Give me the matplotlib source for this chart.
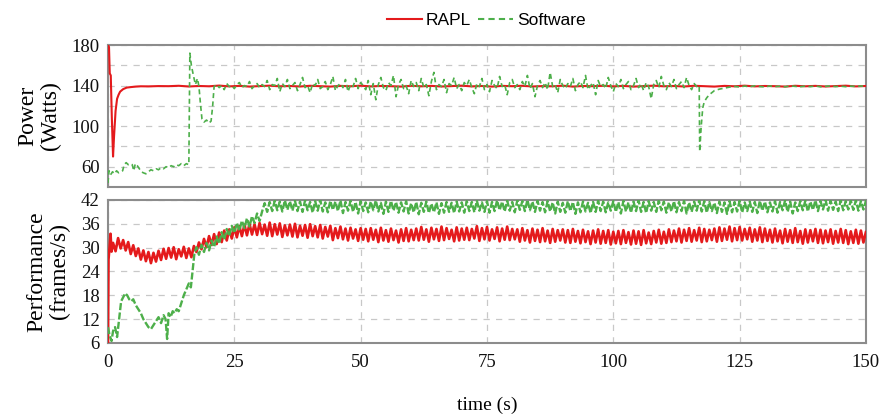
import matplotlib.pyplot as plt
from matplotlib.lines import Line2D
import numpy as np

plt.rcParams['font.family'] = 'Liberation Serif'

RED = '#e41a1c'
GREEN = '#4daf4a'

# ---- power (top) ----
# RAPL: start-up transient, then a flat line sampled every 2 s
rapl_pow_t0 = [0, 0.2, 0.35, 0.55, 0.75, 1.0, 1.2, 1.5, 1.8, 2.1, 2.4, 3.0, 3.7,
               4.5, 5.5, 6.5, 8.0, 10.0]
rapl_pow_v0 = [180, 178, 152, 150, 110, 70, 90, 115, 127, 131, 134, 136.5, 138,
               138.5, 139, 139.3, 139.2, 139.5]
rapl_pow_rest = [139.4, 139.8, 139.1, 139.6, 139.3, 140.0, 139.2, 139.7, 139.0, 139.5,
                 139.9, 139.3, 139.6, 139.1, 139.8, 139.4, 139.0, 139.7, 139.3, 139.9,
                 139.2, 139.6, 139.4, 139.0, 139.8, 139.3, 139.7, 139.1, 139.5, 139.9,
                 139.2, 139.6, 139.0, 139.7, 139.4, 139.8, 139.1, 139.5, 139.3, 139.9,
                 139.0, 139.6, 139.4, 139.8, 139.2, 139.7, 139.0, 139.5, 139.9, 139.3,
                 139.6, 139.1, 139.8, 139.4, 139.0, 139.7, 139.3, 139.9, 139.2, 139.6,
                 139.4, 139.0, 139.8, 139.3, 139.7, 139.1, 139.5, 139.9, 139.2, 139.6]

# Software: slow start, overshoot at ~16 s, then noisy around the cap
sw_pow_t0 = [0, 0.2, 0.5, 0.9, 1.3, 1.7, 2.1, 2.5, 2.9, 3.2,
             3.6, 4.0, 4.4, 4.8, 5.1, 5.4, 5.8, 6.2, 6.6, 7.0,
             7.5, 8.0, 8.5, 9.0, 9.5, 10.0, 10.5, 11.0, 11.5, 12.0,
             12.5, 13.0, 13.5, 14.0, 14.5, 15.0, 15.5, 16.0, 16.2, 16.5,
             16.9, 17.3, 17.7, 18.0, 18.3, 18.6, 19.0, 19.5, 20.0, 20.4,
             20.7, 20.9]
sw_pow_v0 = [44, 56, 52, 55, 53, 56, 54, 55, 56, 62,
             64, 62, 63, 62, 56, 63, 61, 58, 55, 54,
             53, 55, 57, 56, 58, 57, 59, 58, 60, 59,
             61, 60, 62, 61, 63, 61, 63, 62, 172, 160,
             150, 141, 147, 139, 122, 107, 104, 106, 103, 105,
             119, 132]
# every 0.5 s from 21 s to 116.5 s
sw_pow_noise = [139, 141, 138, 140, 136, 142, 139, 140, 137, 141, 143, 138, 140, 139, 144, 137, 140, 142, 138, 141,
                139, 145, 136, 141, 140, 147, 134, 142, 139, 146, 137, 140, 143, 135, 141, 148, 138, 140, 133, 142,
                140, 146, 137, 139, 144, 136, 141, 149, 135, 140, 142, 138, 146, 134, 141, 139, 147, 137, 143, 140,
                136, 145, 131, 142, 126, 141, 148, 138, 135, 143, 140, 150, 129, 141, 146, 137, 140, 132, 145, 139,
                143, 135, 147, 138, 141, 130, 144, 153, 136, 141, 139, 146, 133, 142, 140, 148, 137, 141, 135, 143,
                140, 146, 138, 132, 142, 139, 147, 136, 141, 134, 145, 140, 137, 149, 139, 141, 131, 143, 146, 138,
                141, 136, 144, 139, 150, 137, 142, 129, 140, 145, 138, 143, 136, 153, 139, 141, 133, 146, 140, 137,
                142, 139, 147, 135, 141, 144, 138, 150, 136, 140, 143, 131, 145, 139, 141, 137, 148, 140, 134, 142,
                139, 146, 137, 141, 144, 136, 140, 147, 138, 142, 135, 143, 139, 127, 141, 145, 138, 149, 140, 136,
                143, 139, 146, 137, 141, 144, 138, 148, 140, 136, 142, 139]
sw_pow_t1 = [117.0, 117.1, 117.4, 117.7, 118.0, 118.5, 119.0, 119.5, 120.0, 121.0, 122.0, 123.0]
sw_pow_v1 = [140, 75, 100, 118, 124, 128, 131, 133, 135, 136.5, 137.5, 138.5]
# every 1 s from 124 s
sw_pow_tail = [139.2, 138.6, 139.5, 138.9, 139.8, 139.1, 138.7, 139.6, 139.0, 139.4,
               138.8, 139.7, 139.2, 138.9, 139.5, 139.0, 139.6, 138.8, 139.3, 139.7,
               139.0, 139.4, 138.9, 139.5, 139.1, 139.6, 139.2]

# ---- performance (bottom) ----
rapl_fps_t0 = [0, 0.1, 0.3, 0.5, 0.7]
rapl_fps_v0 = [6, 27, 30, 33.5, 29]
# every 0.5 s from 1 s
rapl_fps_rest = [31.2, 29.1, 32.4, 29.8, 31.9, 29.3, 31.4, 28.4, 30.6, 27.9, 29.8, 27.0, 29.3, 26.6, 28.9, 26.1, 28.7, 26.5, 29.2, 26.9,
                 29.7, 27.2, 29.9, 27.5, 30.1, 27.1, 29.6, 27.8, 30.2, 27.4, 29.8, 27.6, 30.4, 28.9, 31.3, 29.6, 32.2, 30.1, 32.9, 30.7,
                 33.4, 30.9, 33.8, 31.4, 34.3, 31.8, 34.6, 32.3, 35.1, 32.6, 35.4, 32.9, 35.8, 33.1, 36.0, 33.3, 35.9, 33.2, 36.2, 33.4,
                 35.8, 33.0, 36.3, 32.9, 35.9, 33.3, 36.1, 32.7, 35.6, 33.1, 35.8, 32.8, 36.0, 32.6, 35.5, 33.0, 35.7, 32.5, 35.9, 32.9,
                 35.4, 32.6, 35.7, 32.3, 35.2, 32.8, 35.5, 31.9, 34.9, 32.4, 35.3, 32.1, 34.8, 31.8, 35.0, 32.3, 34.6, 31.7, 34.9, 32.0,
                 34.7, 31.6, 34.9, 32.0, 34.5, 31.4, 35.0, 31.8, 34.4, 31.5, 34.8, 31.9, 34.3, 31.3, 34.6, 31.7, 34.9, 31.6, 34.5, 31.9,
                 34.8, 31.8, 35.2, 32.0, 34.6, 31.5, 35.0, 32.1, 34.7, 31.7, 35.3, 31.9, 34.9, 32.2, 34.5, 31.6, 35.1, 31.8, 34.8, 32.0,
                 35.0, 31.9, 34.7, 32.3, 35.4, 31.7, 34.9, 32.1, 35.2, 31.8, 34.6, 32.2, 35.1, 31.6, 34.8, 32.0, 35.3, 31.9, 34.7, 32.1,
                 34.6, 31.5, 34.9, 31.8, 34.4, 31.3, 34.8, 31.7, 34.5, 31.4, 34.9, 31.6, 34.3, 31.2, 34.7, 31.5, 34.4, 31.8, 34.6, 31.3,
                 34.4, 31.2, 34.7, 31.5, 34.2, 31.1, 34.5, 31.4, 34.1, 30.9, 34.3, 31.3, 34.6, 31.0, 34.2, 31.2, 34.4, 30.8, 34.0, 31.1,
                 34.2, 30.9, 34.4, 31.2, 33.9, 30.8, 34.3, 31.0, 34.1, 30.7, 34.4, 31.1, 33.8, 30.9, 34.2, 31.3, 34.5, 31.0, 34.0, 31.2,
                 34.6, 31.4, 34.3, 31.6, 34.8, 31.3, 34.5, 31.7, 34.9, 31.5, 34.4, 31.8, 35.0, 31.4, 34.7, 31.6, 34.5, 31.9, 34.8, 31.5,
                 35.1, 31.7, 34.8, 32.0, 35.3, 31.6, 34.9, 31.9, 35.2, 31.8, 34.7, 32.1, 35.0, 31.5, 34.6, 31.8, 35.1, 31.4, 34.8, 31.7,
                 34.5, 31.3, 34.8, 31.6, 34.3, 31.1, 34.7, 31.5, 34.4, 31.2, 34.9, 31.4, 34.2, 31.0, 34.6, 31.3, 34.4, 31.6, 34.7, 31.2,
                 34.5, 31.1, 34.3, 31.4, 34.6, 31.0, 34.2, 31.3, 34.7, 31.2, 34.4, 30.9, 34.1, 31.2, 34.5, 31.0, 34.3, 31.3, 34.0, 31.1]

sw_fps_t0 = [0, 0.3, 0.7, 1.0, 1.4, 1.8, 2.2, 2.6, 3.0, 3.4,
             3.8, 4.2, 4.6, 5.0, 5.5, 6.0, 6.5, 7.0, 7.5, 8.0,
             8.5, 9.0, 9.5, 10.0, 10.5, 11.0, 11.4, 11.7, 12.0, 12.4,
             12.8, 13.2, 13.6, 14.0, 14.5, 15.0, 15.5, 16.0, 16.4, 16.8,
             17.1]
sw_fps_v0 = [10, 8, 6.5, 9, 10, 7.5, 12, 16.5, 17.5, 18.5,
             18, 17, 16.5, 17, 15.5, 14.5, 13.5, 12, 11, 10,
             9.5, 10.5, 11.5, 12.5, 11, 13, 12, 7, 13.5, 12.5,
             14, 13.5, 14.5, 14, 16, 18, 19.5, 21, 20, 25,
             28.5]
# every 0.5 s from 17.5 s
sw_fps_rest = [30.1, 28.2, 30.7, 28.9, 31.2, 29.3, 31.8, 30.1, 32.8, 31.0, 33.9, 32.0, 34.7, 32.9, 35.5, 33.7, 36.2, 34.3, 36.8, 34.9,
               37.4, 35.3, 37.9, 36.2, 38.6, 36.7, 39.1, 41.2, 39.0, 41.5, 39.2, 41.8, 39.4, 41.6, 39.1, 41.9, 39.5, 41.7, 39.3, 41.8,
               39.2, 41.6, 39.0, 41.9, 39.4, 41.5, 38.8, 41.7, 39.3, 42.0, 39.1, 41.4, 38.9, 41.8, 39.5, 41.6, 39.2, 41.9, 38.7, 41.5,
               39.3, 41.8, 39.0, 41.5, 38.6, 41.7, 39.2, 41.4, 38.9, 41.6, 39.4, 41.9, 39.1, 41.3, 38.5, 41.6, 39.0, 41.8, 39.3, 41.5,
               38.8, 41.4, 39.1, 41.7, 38.6, 41.2, 38.9, 41.5, 38.4, 41.3, 39.0, 41.6, 38.7, 41.1, 38.9, 41.4, 38.5, 41.2, 38.8, 41.5,
               39.0, 41.3, 38.7, 41.6, 39.1, 41.4, 38.8, 41.7, 39.2, 41.5, 38.9, 41.8, 39.3, 41.4, 39.0, 41.7, 38.8, 41.5, 39.2, 41.9,
               39.4, 41.6, 39.1, 41.8, 39.3, 41.5, 38.9, 41.9, 39.5, 41.7, 39.2, 42.0, 39.4, 41.6, 39.0, 41.8, 39.3, 41.5, 38.9, 41.7,
               39.1, 41.4, 38.6, 41.6, 39.0, 41.3, 38.8, 41.7, 39.2, 41.5, 38.5, 41.4, 38.9, 41.6, 39.1, 41.3, 38.7, 41.5, 39.0, 41.8,
               39.2, 41.6, 38.9, 41.4, 39.3, 41.7, 39.0, 41.5, 38.6, 41.8, 39.1, 41.4, 38.8, 41.6, 39.2, 41.9, 39.0, 41.5, 38.7, 41.7,
               39.3, 41.5, 39.0, 41.8, 39.4, 41.6, 38.8, 41.4, 39.1, 41.7, 38.9, 41.5, 39.2, 41.8, 38.6, 41.4, 39.0, 41.6, 39.3, 41.9,
               39.1, 41.7, 38.8, 41.5, 39.2, 41.3, 38.7, 41.6, 39.0, 41.4, 38.5, 41.7, 38.9, 41.5, 39.1, 41.8, 38.8, 41.4, 39.2, 41.6,
               39.0, 41.5, 38.7, 41.8, 39.3, 41.6, 38.9, 41.4, 39.1, 41.7, 38.8, 41.5, 39.4, 41.9, 39.0, 41.6, 38.6, 41.4, 39.2, 41.7,
               39.4, 41.8, 39.1, 41.6, 39.5, 41.9, 39.2, 41.7, 39.6, 42.0, 39.3, 41.8, 39.5, 41.6, 39.2, 41.9, 39.4, 41.7, 39.6, 41.8,
               39.5, 41.9, 39.3, 41.7, 39.6, 41.8, 39.4]


def join(t0, v0, start, step, rest):
    t = np.concatenate([t0, start + step * np.arange(len(rest))])
    v = np.concatenate([v0, rest])
    return t, v


rapl_pow_t, rapl_pow = join(rapl_pow_t0, rapl_pow_v0, 12.0, 2.0, rapl_pow_rest)
sw_pow_t = np.concatenate([sw_pow_t0, 21.0 + 0.5 * np.arange(len(sw_pow_noise)),
                           sw_pow_t1, 124.0 + np.arange(len(sw_pow_tail))])
sw_pow = np.concatenate([sw_pow_v0, sw_pow_noise, sw_pow_v1, sw_pow_tail])
rapl_fps_t, rapl_fps = join(rapl_fps_t0, rapl_fps_v0, 1.0, 0.5, rapl_fps_rest)
sw_fps_t, sw_fps = join(sw_fps_t0, sw_fps_v0, 17.5, 0.5, sw_fps_rest)

x_ticks = [0, 25, 50, 75, 100, 125, 150]

fig = plt.figure(figsize=(8.83, 4.16), dpi=100)
ax1 = fig.add_axes([0.1223, 0.5505, 0.8584, 0.3413])
ax2 = fig.add_axes([0.1223, 0.1755, 0.8584, 0.3438])

dash = (3, 2)
ax1.plot(rapl_pow_t, rapl_pow, color=RED, lw=1.5, zorder=3)
ax1.plot(sw_pow_t, sw_pow, color=GREEN, lw=1.2, dashes=dash, zorder=4)
ax2.plot(rapl_fps_t, rapl_fps, color=RED, lw=1.9, zorder=3)
ax2.plot(sw_fps_t, sw_fps, color=GREEN, lw=1.7, dashes=(3, 1), zorder=4)

ax1.set_ylim(40, 180)
ax1.set_yticks([60, 100, 140, 180])
ax1.set_yticks([80, 120, 160], minor=True)
ax2.set_ylim(6, 42)
ax2.set_yticks([6, 12, 18, 24, 30, 36, 42])

for ax in (ax1, ax2):
    ax.set_xlim(0, 150)
    ax.set_xticks(x_ticks)
    ax.grid(True, which='both', color='#c8c8c8', lw=0.9, dashes=(5, 5))
    ax.set_axisbelow(True)
    ax.tick_params(which='both', length=0, labelsize=13.5, labelcolor='#111111')
    ax.tick_params(axis='x', pad=8)
    ax.tick_params(axis='y', pad=6)
    for s in ax.spines.values():
        s.set_color('#8c8c8c')
        s.set_linewidth(1.5)

ax1.tick_params(labelbottom=False)

ax1.set_ylabel('Power\n(Watts)', fontsize=17, linespacing=1.1, va='center')
ax1.yaxis.set_label_coords(-0.091, 0.5)
ax2.set_ylabel('Performance\n(frames/s)', fontsize=17, linespacing=1.1, va='center')
ax2.yaxis.set_label_coords(-0.079, 0.5)
ax2.set_xlabel('time (s)', fontsize=14, va='center')
ax2.xaxis.set_label_coords(0.5, -0.434)

handles = [Line2D([], [], color=RED, lw=1.5),
           Line2D([], [], color=GREEN, lw=1.5, dashes=dash)]
fig.legend(handles, ['RAPL', 'Software'], loc='center', bbox_to_anchor=(0.551, 0.95),
           ncol=2, frameon=False, handlelength=2.0, handletextpad=0.25,
           columnspacing=0.4, prop={'family': 'Liberation Sans', 'size': 12.5})

fig.savefig('out.png', dpi=100)
